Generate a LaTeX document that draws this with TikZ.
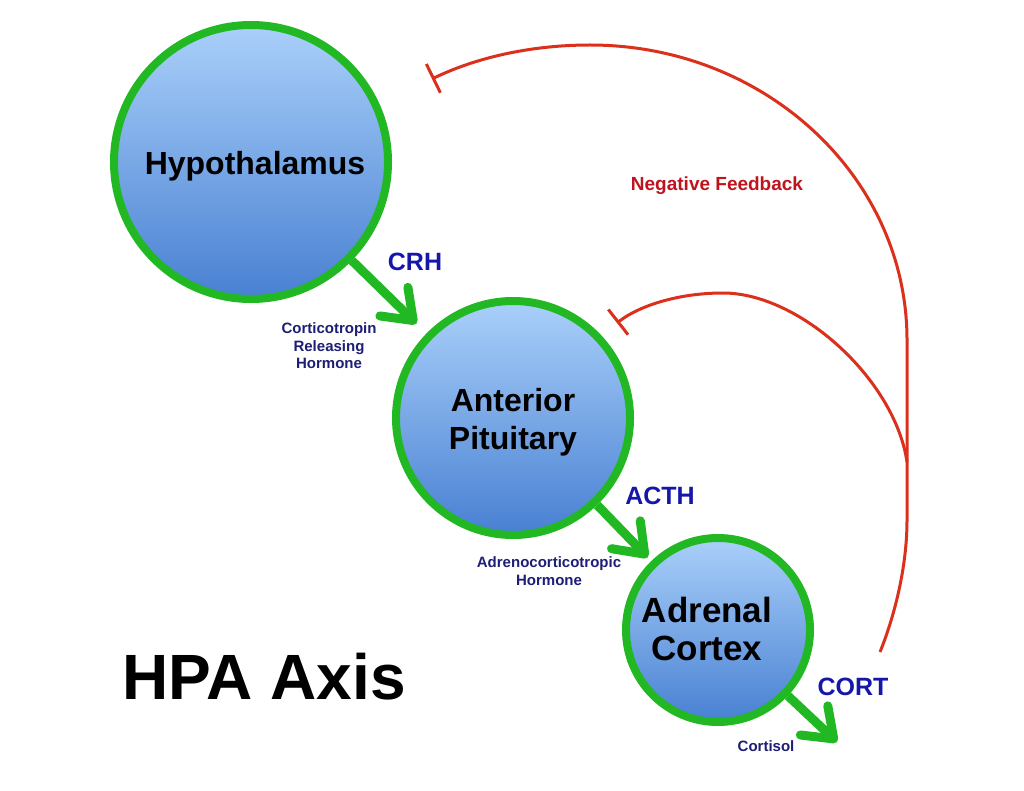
\documentclass[tikz,border=0pt]{standalone}
\usepackage{fontspec}
\setmainfont{Liberation Sans}
\usetikzlibrary{arrows.meta}
\definecolor{ringgreen}{RGB}{34,184,36}
\definecolor{ballTop}{RGB}{170,208,250}
\definecolor{ballBot}{RGB}{72,128,210}
\definecolor{hormblue}{RGB}{22,22,168}
\definecolor{labnavy}{RGB}{30,30,118}
\definecolor{fbred}{RGB}{218,48,28}
\definecolor{fbtext}{RGB}{190,20,30}
\tikzset{
 gland/.style={circle, draw=ringgreen, line width=8pt, top color=ballTop, bottom color=ballBot, inner sep=0pt},
 glandtext/.style={align=center, font=\bfseries\fontsize{32}{37.5}\selectfont, inner sep=0pt},
 flow/.style={draw=ringgreen, line width=9pt, -{Straight Barb[length=27pt,width=40pt,round]}},
 fb/.style={draw=fbred, line width=3pt, -{Bar[width=32pt]}},
 horm/.style={text=hormblue, font=\bfseries\fontsize{25}{30}\selectfont},
 desc/.style={text=labnavy, align=center, font=\bfseries\fontsize{15}{17.5}\selectfont},
}
\begin{document}
\begin{tikzpicture}[x=1pt,y=-1pt]
\fill[white] (0,0) rectangle (1024,791);
\useasboundingbox (0,0) rectangle (1024,791);
% glands
\node[gland, minimum size=274pt] (hyp) at (251,162) {};
\node[gland, minimum size=234pt] (pit) at (513,418) {};
\node[gland, minimum size=184pt] (adr) at (718,630) {};
\node[glandtext] (hyptxt) at (255,166) {Hypothalamus};
\node[glandtext] (pittxt) at (513,422) {Anterior\\Pituitary};
\node[glandtext, font=\bfseries\fontsize{35}{37.5}\selectfont] (adrtxt) at (707,629) {Adrenal\\Cortex};
% hormone arrows
\coordinate (cortend) at (837,742);
\draw[flow, shorten >=14pt] (hyp) -- (pit);
\draw[flow, shorten >=5pt] (pit) -- (adr);
\draw[flow] (adr) -- (cortend);
% labels
\node[horm] (crh) at (415,262) {CRH};
\node[horm] (acth) at (660,496) {ACTH};
\node[horm] (cort) at (853,687) {CORT};
\node[desc] (crhdesc) at (329,346) {Corticotropin\\Releasing\\Hormone};
\node[desc] (acthdesc) at (549,571) {Adrenocorticotropic\\Hormone};
\node[desc] (cortdesc) at (766,746) {Cortisol};
\node[text=fbtext, font=\bfseries\fontsize{19}{23}\selectfont] (neg) at (717,186) {Negative Feedback};
\node[font=\bfseries\fontsize{64}{70}\selectfont] (title) at (264,677) {HPA Axis};
% negative feedback
\coordinate (fbstart) at (880,652);
\coordinate (junc) at (907,462);
\coordinate (hypbar) at (432,79);
\coordinate (pitbar) at (617,323);
\draw[fb] (fbstart) .. controls (893,620) and (907,570) .. (907,520) -- (907,340)
  .. controls (907,177) and (765,45) .. (590,45)
  .. controls (530,45) and (475,58) .. (hypbar);
\draw[fb] (junc) .. controls (895,380) and (800,293) .. (723,293)
  .. controls (680,293) and (640,305) .. (pitbar);
\end{tikzpicture}
\end{document}
